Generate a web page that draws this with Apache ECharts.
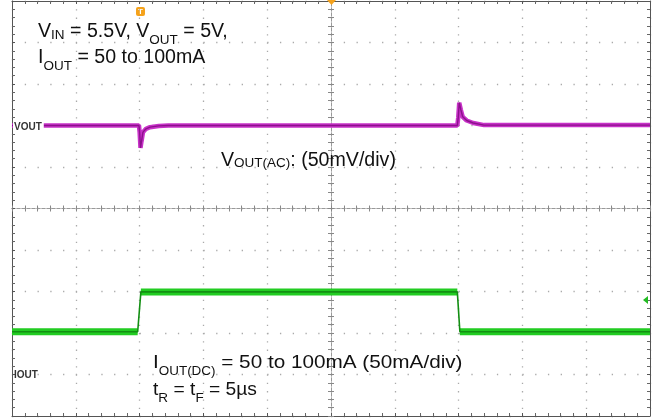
<!DOCTYPE html>
<html>
<head>
<meta charset="utf-8">
<script src="https://cdn.jsdelivr.net/npm/echarts@6/dist/echarts.min.js"></script>
<style>
  html, body { margin: 0; padding: 0; background: #fff; }
  #chart { width: 655px; height: 418px; }
</style>
</head>
<body>
<div id="chart"></div>
<script>
// screen is 10 x 10 divisions, values in divisions from the lower left corner
const voutX = [0, 1.99, 2.0, 2.014, 2.03, 2.053, 2.1, 2.163, 2.3, 2.45, 6.98, 6.995, 7.01, 7.035, 7.064, 7.127, 7.23, 7.4, 10];
const voutY = [7.0, 7.0, 6.85, 6.46, 6.62, 6.84, 6.92, 6.96, 6.99, 7.0, 7.0, 7.2, 7.55, 7.38, 7.21, 7.12, 7.06, 7.01, 7.01];

const ioutX = [0, 1.97, 2.02, 6.98, 7.02, 10];
const ioutY = [2.03, 2.03, 2.99, 2.99, 2.03, 2.03];

const chartDom = document.getElementById('chart');
const chart = echarts.init(chartDom, null, { renderer: 'canvas' });

const FONT = '"Liberation Sans", Arial, sans-serif';
const F = 19.6;
const FS = 13.5;
const toPairs = (xs, ys) => xs.map((x, i) => [x, ys[i]]);

// thick noise band only on the flat parts, thin trace through the edges
const bandOf = (xs, ys) => {
  const out = [];
  xs.forEach((x, i) => {
    if (i > 0) {
      const slope = Math.abs((ys[i] - ys[i - 1]) / (x - xs[i - 1]));
      if (slope > 5) out.push([x, '-']);
    }
    out.push([x, ys[i]]);
  });
  return out;
};

const gridPos = { left: 12, right: 5, top: 1, bottom: 2 };

const borderX = (pos, split) => ({
  gridIndex: 0, type: 'value', position: pos, min: 0, max: 10, interval: 1,
  axisLine: { show: true, onZero: false, lineStyle: { color: '#555', width: 1 } },
  axisTick: { show: true, inside: true, length: 3, lineStyle: { color: '#555' } },
  minorTick: { show: true, splitNumber: 5, length: 3, lineStyle: { color: '#666' } },
  axisLabel: { show: false },
  splitLine: { show: split, lineStyle: { color: '#aaa', width: 1.3, type: [1.3, 7.0] } }
});
const borderY = (pos, split) => ({
  gridIndex: 0, type: 'value', position: pos, min: 0, max: 10, interval: 1,
  axisLine: { show: true, onZero: false, lineStyle: { color: '#555', width: 1 } },
  axisTick: { show: true, inside: true, length: 3, lineStyle: { color: '#555' } },
  minorTick: { show: true, splitNumber: 5, length: 3, lineStyle: { color: '#666' } },
  axisLabel: { show: false },
  splitLine: { show: split, lineStyle: { color: '#aaa', width: 1.3, type: [1.3, 11.46] } }
});
const centreAxis = (gi, inside) => ({
  gridIndex: gi, type: 'value', min: -5, max: 5, interval: 1,
  axisLine: { show: true, onZero: true, lineStyle: { color: '#999', width: 1, type: [3, 2] } },
  axisTick: { show: true, inside: inside, length: 3, lineStyle: { color: '#888' } },
  minorTick: { show: true, splitNumber: 5, length: 3, lineStyle: { color: '#888' } },
  axisLabel: { show: false },
  splitLine: { show: false }
});

const richM = (size, lh) => ({ fontSize: size, lineHeight: lh, fontFamily: FONT, verticalAlign: 'top', fill: '#111' });
const richSmall = { fontSize: FS, fontFamily: FONT, verticalAlign: 'middle', fill: '#111' };
const richSub = (size) => ({ fontSize: size, fontFamily: FONT, verticalAlign: 'bottom', fill: '#111' });

const option = {
  animation: false,
  backgroundColor: '#fff',
  grid: [
    Object.assign({}, gridPos),
    Object.assign({}, gridPos),
    Object.assign({}, gridPos)
  ],
  xAxis: [
    borderX('bottom', true),
    borderX('top', false),
    centreAxis(1, true),
    centreAxis(2, false)
  ],
  yAxis: [
    borderY('left', true),
    borderY('right', false),
    centreAxis(1, true),
    centreAxis(2, false)
  ],
  series: [
    {
      name: 'VOUT band', type: 'line', xAxisIndex: 0, yAxisIndex: 0,
      data: toPairs(voutX, voutY), showSymbol: false, silent: true,
      lineStyle: { color: '#c832c8', width: 4.5 }
    },
    {
      name: 'VOUT', type: 'line', xAxisIndex: 0, yAxisIndex: 0,
      data: toPairs(voutX, voutY), showSymbol: false, silent: true,
      lineStyle: { color: '#8c108c', width: 1.4 }
    },
    {
      name: 'IOUT band', type: 'line', xAxisIndex: 0, yAxisIndex: 0,
      data: bandOf(ioutX, ioutY), showSymbol: false, silent: true, connectNulls: false,
      lineStyle: { color: '#22cc22', width: 7 }
    },
    {
      name: 'IOUT', type: 'line', xAxisIndex: 0, yAxisIndex: 0,
      data: toPairs(ioutX, ioutY), showSymbol: false, silent: true,
      lineStyle: { color: '#138f13', width: 1.6 }
    }
  ],
  graphic: [
    // trigger point marker
    {
      type: 'group', left: 136, top: 7, z: 100,
      children: [
        { type: 'rect', shape: { x: 0, y: 0, width: 9, height: 9, r: 2 }, style: { fill: '#f5a21b' } },
        { type: 'text', x: 4.5, y: 5, style: { text: 'T', fill: '#fff', font: 'bold 8px ' + FONT, align: 'center', verticalAlign: 'middle' } }
      ]
    },
    // trigger position at top centre
    {
      type: 'polygon', z: 100, shape: { points: [[327, 0], [336, 0], [331.5, 5]] }, style: { fill: '#f5a21b' }
    },
    // trigger level marker
    {
      type: 'polygon', z: 100, shape: { points: [[643, 300], [648, 296], [648, 304]] }, style: { fill: '#22bb22' }
    },
    {
      type: 'text', x: 13, y: 127, z: 100,
      style: { text: 'VOUT', fill: '#333', font: 'bold 10px ' + FONT, verticalAlign: 'middle', backgroundColor: '#fff', padding: [2, 2, 2, 1] }
    },
    {
      type: 'text', x: 14, y: 375, z: 100,
      style: { text: 'IOUT', fill: '#333', font: 'bold 10px ' + FONT, verticalAlign: 'middle' }
    },
    {
      type: 'text', left: 38, top: 22, z: 100,
      style: {
        text: '{m|V}{s|IN}{m| = 5.5V, V}{b|OUT}{m| = 5V,}\n{m|I}{b|OUT}{m| = 50 to 100mA}',
        rich: { m: richM(F, 25.6), s: richSmall, b: richSub(FS) }
      }
    },
    {
      type: 'text', left: 221, top: 150.5, z: 100,
      style: {
        text: '{m|V}{s|OUT(AC)}{m|: (50mV/div)}',
        rich: { m: richM(F, 25.6), s: richSmall }
      }
    },
    {
      type: 'text', x: 153, y: 353, z: 100, scaleX: 1.12,
      style: {
        text: '{m|I}{b|OUT(DC)}{m| = 50 to 100mA (50mA/div)}',
        rich: { m: richM(18.5, 25), b: richSub(12) }
      }
    },
    {
      type: 'text', x: 153, y: 380, z: 100, scaleX: 1.04,
      style: {
        text: '{m|t}{b|R}{m| = t}{b|F}{m| = 5µs}',
        rich: { m: richM(18.5, 25), b: richSub(13) }
      }
    }
  ]
};

chart.setOption(option);
window.addEventListener('resize', () => chart.resize());
</script>
</body>
</html>
